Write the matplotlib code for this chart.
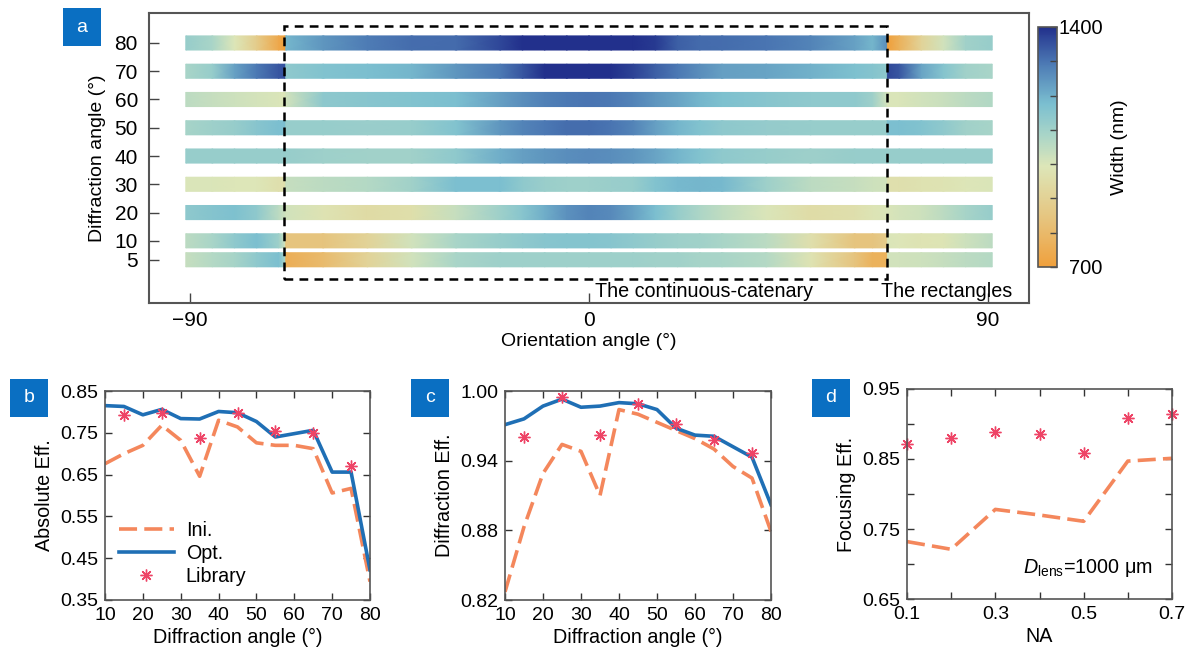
import numpy as np
import matplotlib
matplotlib.use("Agg")
import matplotlib.pyplot as plt
from matplotlib.colors import LinearSegmentedColormap, Normalize
from matplotlib.patches import Rectangle

plt.rcParams['font.family'] = ['Liberation Sans', 'DejaVu Sans']
plt.rcParams['mathtext.fontset'] = 'custom'
plt.rcParams['mathtext.it'] = 'Liberation Sans:italic'
plt.rcParams['mathtext.rm'] = 'Liberation Sans'

# ---------------- Panel a data ----------------
angle_grid = [-91, -85, -80, -75, -70, -68.6, -68.4, -60, -50, -40, -30, -20, -15, -10, -5, 0,
              5, 10, 15, 20, 25, 30, 40, 50, 60, 64, 67.2, 67.4, 70, 75, 80, 85, 91]
diff_labels = ['80', '70', '60', '50', '40', '30', '20', '10', '5']
row_pos = [8, 7, 6, 5, 4, 3, 2, 1, 0.33]

width_80 = [1120, 1085, 995, 875, 735, 700, 1190, 1245, 1290, 1310, 1315, 1365, 1400, 1400, 1400, 1400,
            1400, 1400, 1385, 1330, 1315, 1310, 1300, 1275, 1225, 1190, 1260, 700, 770, 910, 1015, 1100, 1120]
width_70 = [1085, 1120, 1225, 1295, 1345, 1350, 1135, 1160, 1175, 1190, 1245, 1295, 1345, 1400, 1400, 1400,
            1400, 1370, 1330, 1295, 1260, 1230, 1220, 1200, 1170, 1155, 1135, 1365, 1345, 1220, 1155, 1100, 1085]
width_60 = [1050, 1035, 1020, 1010, 1000, 995, 1015, 1140, 1150, 1160, 1175, 1230, 1260, 1280, 1295, 1300,
            1295, 1275, 1245, 1220, 1190, 1170, 1150, 1135, 1135, 1105, 1015, 1000, 1000, 1015, 1030, 1050, 1070]
width_50 = [1090, 1105, 1120, 1150, 1175, 1175, 1120, 1120, 1115, 1120, 1160, 1245, 1275, 1295, 1310, 1310,
            1300, 1275, 1230, 1190, 1160, 1140, 1125, 1120, 1120, 1120, 1120, 1175, 1175, 1160, 1135, 1100, 1090]
width_40 = [1120, 1120, 1120, 1120, 1120, 1120, 1120, 1105, 1100, 1100, 1135, 1205, 1230, 1245, 1260, 1265,
            1260, 1245, 1220, 1190, 1160, 1135, 1120, 1105, 1120, 1120, 1120, 1120, 1120, 1120, 1120, 1120, 1120]
width_30 = [1000, 1000, 995, 995, 965, 965, 1035, 1050, 1065, 1100, 1175, 1175, 1135, 1115, 1105, 1105,
            1115, 1120, 1160, 1185, 1190, 1185, 1105, 1050, 1035, 1020, 1015, 965, 965, 975, 980, 995, 1000]
width_20 = [1135, 1155, 1170, 1135, 1050, 1020, 1015, 980, 945, 960, 1035, 1105, 1150, 1205, 1255, 1275,
            1265, 1225, 1175, 1120, 1080, 1045, 1000, 950, 965, 985, 1000, 1000, 1010, 1020, 1050, 1090, 1120]
width_10 = [1050, 1085, 1135, 1175, 1105, 1015, 840, 840, 910, 1015, 1085, 1120, 1135, 1150, 1155, 1155,
            1150, 1135, 1120, 1105, 1100, 1085, 1055, 965, 840, 840, 875, 1000, 995, 980, 985, 1020, 1050]
width_5 = [1035, 1065, 1090, 1135, 1175, 1085, 755, 805, 910, 1015, 1085, 1105, 1105, 1105, 1105, 1105,
           1105, 1105, 1100, 1100, 1090, 1085, 1065, 980, 840, 770, 770, 1015, 1015, 1020, 1035, 1050, 1065]
width_rows = [width_80, width_70, width_60, width_50, width_40, width_30, width_20, width_10, width_5]

# ---------------- Panels b, c, d data ----------------
diff_angle = [10, 15, 20, 25, 30, 35, 40, 45, 50, 55, 60, 65, 70, 75, 80]
lib_angle = [15, 25, 35, 45, 55, 65, 75]

abs_ini = [0.676, 0.700, 0.720, 0.768, 0.732, 0.646, 0.780, 0.764, 0.726, 0.720, 0.720, 0.712, 0.606, 0.617, 0.394]
abs_opt = [0.815, 0.813, 0.793, 0.806, 0.784, 0.783, 0.801, 0.798, 0.777, 0.740, 0.748, 0.756, 0.656, 0.656, 0.422]
abs_lib = [0.792, 0.798, 0.738, 0.797, 0.754, 0.750, 0.670]

de_ini = [0.827, 0.883, 0.929, 0.954, 0.948, 0.910, 0.984, 0.980, 0.973, 0.966, 0.959, 0.950, 0.935, 0.925, 0.879]
de_opt = [0.971, 0.976, 0.987, 0.993, 0.986, 0.987, 0.990, 0.989, 0.984, 0.968, 0.962, 0.961, 0.952, 0.943, 0.902]
de_lib = [0.960, 0.995, 0.962, 0.989, 0.972, 0.958, 0.947]

na = [0.1, 0.2, 0.3, 0.4, 0.5, 0.6, 0.7]
foc_ini = [0.732, 0.721, 0.778, 0.770, 0.761, 0.847, 0.851]
foc_lib = [0.872, 0.880, 0.889, 0.886, 0.859, 0.909, 0.914]

# ---------------- Styling ----------------
cmap = LinearSegmentedColormap.from_list('catenary', [
    (0.0, '#F0A03C'), (0.2, '#E6C47E'), (0.42, '#DDE6B8'), (0.55, '#A9D5C8'),
    (0.68, '#7BBFD0'), (0.85, '#4C79B4'), (1.0, '#22308C')])
norm = Normalize(700, 1400)
C_INI = '#F4875C'
C_OPT = '#1F6FB5'
C_LIB = '#EE4466'
SPINE = '#555555'
W, H = 1191, 657
FS = 14.2

fig = plt.figure(figsize=(W / 100, H / 100), dpi=100)


def fr(l, t, r, b):
    return [l / W, 1 - b / H, (r - l) / W, (b - t) / H]


# ---------------- Panel a ----------------
ax = fig.add_axes(fr(149, 13, 1029, 303))
xg = np.array(angle_grid, dtype=float)
for pos, vals in zip(row_pos, width_rows):
    X = np.vstack([xg, xg])
    Y = np.vstack([np.full_like(xg, pos - 0.25), np.full_like(xg, pos + 0.25)])
    Cc = np.vstack([vals, vals]).astype(float)
    mesh = ax.pcolormesh(X, Y, Cc, cmap=cmap, norm=norm, shading='gouraud')
ax.add_patch(Rectangle((-68.8, -0.35), 136.1, 8.95, fill=False, ec='black', lw=1.8,
                       linestyle=(0, (3.5, 2.5)), zorder=5))
ax.set_xlim(-99.3, 99.3)
ax.set_ylim(-1.2, 9.06)
ax.set_xticks([-90, 0, 90])
ax.set_xticklabels(['\u221290', '0', '90'])
ax.set_yticks(row_pos)
ax.set_yticklabels(diff_labels)
ax.tick_params(direction='in', length=7, width=1, labelsize=15, color='#444444', pad=6)
ax.tick_params(axis='y', pad=8)
for s in ax.spines.values():
    s.set_color(SPINE)
    s.set_linewidth(1.5)
ax.set_xlabel('Orientation angle (\u00b0)', fontsize=14, labelpad=2)
ax.set_ylabel('Diffraction angle (\u00b0)', fontsize=14, labelpad=6)
ax.text(1.4, -0.98, 'The continuous-catenary', fontsize=14.2, va='baseline', ha='left')
ax.text(65.9, -0.98, 'The rectangles', fontsize=14.2, va='baseline', ha='left')

cax = fig.add_axes(fr(1038, 27, 1057, 267))
cb = fig.colorbar(mesh, cax=cax)
cb.set_ticks([700, 800, 900, 1000, 1100, 1200, 1300, 1400])
cb.set_ticklabels(['700', '', '', '', '', '', '', '1400'])
cax.tick_params(direction='in', length=5, width=1, labelsize=14.5, color='#444444', pad=33)
for t in cax.get_yticklabels():
    t.set_horizontalalignment('right')
cb.outline.set_edgecolor(SPINE)
cb.outline.set_linewidth(1.2)
cb.set_label('Width (nm)', fontsize=14, labelpad=6)


def style_small(a):
    a.tick_params(direction='in', length=5, width=1, labelsize=14, top=True, right=True,
                  color='#333333', pad=5)
    for s in a.spines.values():
        s.set_color(SPINE)
        s.set_linewidth(1.2)


star = dict(marker=(8, 2, 0), ms=8.5, mew=1.0, color=C_LIB, ls='none')

# ---------------- Panel b ----------------
axb = fig.add_axes(fr(105, 391, 370, 600))
axb.plot(diff_angle, abs_ini, color=C_INI, lw=2.6, dashes=(5, 2), label='Ini.')
axb.plot(diff_angle, abs_opt, color=C_OPT, lw=2.6, label='Opt.')
axb.plot(lib_angle, abs_lib, label='Library', **star)
axb.plot(lib_angle, abs_lib, ls='none', marker='o', ms=2.2, color=C_LIB)
axb.set_xlim(10, 80)
axb.set_ylim(0.35, 0.85)
axb.set_xticks([10, 20, 30, 40, 50, 60, 70, 80])
axb.set_yticks([0.35, 0.45, 0.55, 0.65, 0.75, 0.85])
axb.set_yticklabels(['0.35', '0.45', '0.55', '0.65', '0.75', '0.85'])
style_small(axb)
axb.set_xlabel('Diffraction angle (\u00b0)', fontsize=FS, labelpad=3)
axb.set_ylabel('Absolute Eff.', fontsize=FS, labelpad=4)
axb.legend(loc='lower left', bbox_to_anchor=(0.0, 0.0), frameon=False, fontsize=FS,
           handlelength=2.8, handletextpad=0.6, labelspacing=0.2, borderaxespad=0.3)

# ---------------- Panel c ----------------
axc = fig.add_axes(fr(505, 391, 771, 600))
axc.plot(diff_angle, de_ini, color=C_INI, lw=2.6, dashes=(5, 2))
axc.plot(diff_angle, de_opt, color=C_OPT, lw=2.6)
axc.plot(lib_angle, de_lib, **star)
axc.plot(lib_angle, de_lib, ls='none', marker='o', ms=2.2, color=C_LIB)
axc.set_xlim(10, 80)
axc.set_ylim(0.82, 1.00)
axc.set_xticks([10, 20, 30, 40, 50, 60, 70, 80])
axc.set_yticks([0.82, 0.88, 0.94, 1.00])
axc.set_yticklabels(['0.82', '0.88', '0.94', '1.00'])
style_small(axc)
axc.set_xlabel('Diffraction angle (\u00b0)', fontsize=FS, labelpad=3)
axc.set_ylabel('Diffraction Eff.', fontsize=FS, labelpad=4)

# ---------------- Panel d ----------------
axd = fig.add_axes(fr(907, 389, 1172, 599))
axd.plot(na, foc_ini, color=C_INI, lw=2.6, dashes=(5, 2), clip_on=False)
axd.plot(na, foc_lib, clip_on=False, **star)
axd.plot(na, foc_lib, ls='none', marker='o', ms=2.2, color=C_LIB, clip_on=False)
axd.set_xlim(0.1, 0.7)
axd.set_ylim(0.65, 0.95)
axd.set_xticks([0.1, 0.2, 0.3, 0.4, 0.5, 0.6, 0.7])
axd.set_xticklabels(['0.1', '', '0.3', '', '0.5', '', '0.7'])
axd.set_yticks([0.65, 0.70, 0.75, 0.80, 0.85, 0.90, 0.95])
axd.set_yticklabels(['0.65', '', '0.75', '', '0.85', '', '0.95'])
style_small(axd)
axd.set_xlabel('NA', fontsize=FS, labelpad=3)
axd.set_ylabel('Focusing Eff.', fontsize=FS, labelpad=4)
axd.text(0.363, 0.687, r'$\mathit{D}_{\mathrm{lens}}$' + '=1000 \u03bcm',
         fontsize=FS, ha='left', va='baseline')

# ---------------- Panel labels ----------------
for lbl, (l, t, r, b) in zip('abcd', [(63, 8, 101, 46), (10, 379, 48, 417),
                                      (411, 379, 449, 417), (812, 379, 850, 417)]):
    fig.add_artist(Rectangle((l / W, 1 - b / H), (r - l) / W, (b - t) / H,
                             transform=fig.transFigure, fc='#0A6FC2', ec='none'))
    fig.text((l + r) / 2 / W, 1 - (t + b) / 2 / H, lbl, color='white', fontsize=14,
             ha='center', va='center')

fig.savefig('out.png', dpi=100)
